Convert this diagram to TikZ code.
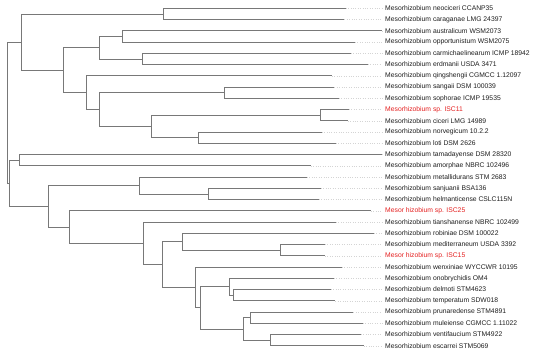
\documentclass[tikz,border=0pt]{standalone}
\usepackage{fontspec}
\setmainfont{Liberation Sans}
\usetikzlibrary{calc}

\definecolor{treegray}{RGB}{120,120,120}
\definecolor{leadgray}{RGB}{212,212,212}
\definecolor{isolate}{RGB}{228,32,32}
\definecolor{taxtext}{RGB}{30,30,30}

\begin{document}
\begin{tikzpicture}[x=1bp,y=-11.25bp,font=\fontsize{6.8}{8}\selectfont,
  branchline/.style={draw=treegray,line width=0.85bp},
  leaderline/.style={draw=leadgray,line width=0.5bp,dash pattern=on 0.6bp off 1.8bp,shorten >=3bp},
  taxon/.style={anchor=west,inner sep=0pt}]
  \useasboundingbox (0,-0.738) rectangle (550,30.64);
  % leaves: row / tip x / colour / label
  \foreach \i/\x/\c/\name in {
    0/345.7/taxtext/{Mesorhizobium neociceri CCANP35},
    1/344.3/taxtext/{Mesorhizobium caraganae LMG 24397},
    2/382.3/taxtext/{Mesorhizobium australicum WSM2073},
    3/355/taxtext/{Mesorhizobium opportunistum WSM2075},
    4/350.7/taxtext/{Mesorhizobium carmichaelinearum ICMP 18942},
    5/367.7/taxtext/{Mesorhizobium erdmanii USDA 3471},
    6/331.7/taxtext/{Mesorhizobium qingshengii CGMCC 1.12097},
    7/334.3/taxtext/{Mesorhizobium sangaii DSM 100039},
    8/338.7/taxtext/{Mesorhizobium sophorae ICMP 19535},
    9/349/isolate/{Mesorhizobium sp. ISC11},
    10/347.7/taxtext/{Mesorhizobium ciceri LMG 14989},
    11/321.7/taxtext/{Mesorhizobium norvegicum 10.2.2},
    12/336/taxtext/{Mesorhizobium loti DSM 2626},
    13/382.3/taxtext/{Mesorhizobium tamadayense DSM 28320},
    14/310.7/taxtext/{Mesorhizobium amorphae NBRC 102496},
    15/306.7/taxtext/{Mesorhizobium metallidurans STM 2683},
    16/320.7/taxtext/{Mesorhizobium sanjuanii BSA136},
    17/318.7/taxtext/{Mesorhizobium helmanticense CSLC115N},
    18/370.7/isolate/{Mesor hizobium sp. ISC25},
    19/336/taxtext/{Mesorhizobium tianshanense NBRC 102499},
    20/374/taxtext/{Mesorhizobium robiniae DSM 100022},
    21/325/taxtext/{Mesorhizobium mediterraneum USDA 3392},
    22/325/isolate/{Mesor hizobium sp. ISC15},
    23/341.7/taxtext/{Mesorhizobium wenxiniae WYCCWR 10195},
    24/334/taxtext/{Mesorhizobium onobrychidis OM4},
    25/330.7/taxtext/{Mesorhizobium delmoti STM4623},
    26/335.3/taxtext/{Mesorhizobium temperatum SDW018},
    27/353.3/taxtext/{Mesorhizobium prunaredense STM4891},
    28/362.7/taxtext/{Mesorhizobium muleiense CGMCC 1.11022},
    29/360.7/taxtext/{Mesorhizobium ventifaucium STM4922},
    30/363.7/taxtext/{Mesorhizobium escarrei STM5069}}{
    \coordinate (t\i) at (\x,\i);
    \node[taxon,text=\c] (l\i) at (385,\i) {\name};
    \draw[leaderline] (t\i) -- (l\i.west);}
  % internal nodes
  \foreach \n/\x/\y in {root/7.3/9.28, ca/21.3/3, c01/163/0.5, cb/63.7/5.5,
    cc/99.7/3.5, c23/122/2.5, c45/142.7/4.5, cd/86.7/7.5, ce/99/9,
    c78/224.3/7.5, cf/151/10.5, c910/320.7/9.5, c1112/198.3/11.5,
    cl/9/15.55, c1314/19.3/13.5, ch/48.3/17.6, cg/139.3/15.75,
    c1617/208.3/16.5, ci/69.7/19.45, cj/143.3/20.89, ck/162.7/22.78,
    cm/182.3/20.75, c2122/280.3/21.5, cn/195/24.81, cx/200/26.625,
    cp/229.3/24.75, c2526/233.3/25.5, cq/243.3/28.5, c2728/250.7/27.5,
    c2930/270.7/29.5}{\coordinate (\n) at (\x,\y);}
  % branches
  \foreach \p/\c in {root/ca, root/cl, ca/c01, ca/cb, c01/t0, c01/t1,
    cb/cc, cb/cd, cc/c23, cc/c45, c23/t2, c23/t3, c45/t4, c45/t5,
    cd/t6, cd/ce, ce/c78, ce/cf, c78/t7, c78/t8, cf/c910, cf/c1112,
    c910/t9, c910/t10, c1112/t11, c1112/t12,
    cl/c1314, cl/ch, c1314/t13, c1314/t14, ch/cg, ch/ci, cg/t15, cg/c1617,
    c1617/t16, c1617/t17, ci/t18, ci/cj, cj/t19, cj/ck, ck/cm, ck/cn,
    cm/t20, cm/c2122, c2122/t21, c2122/t22, cn/t23, cn/cx, cx/cp, cx/cq,
    cp/t24, cp/c2526, c2526/t25, c2526/t26, cq/c2728, cq/c2930,
    c2728/t27, c2728/t28, c2930/t29, c2930/t30}{
    \draw[branchline] (\p) |- (\c);}
\end{tikzpicture}
\end{document}
